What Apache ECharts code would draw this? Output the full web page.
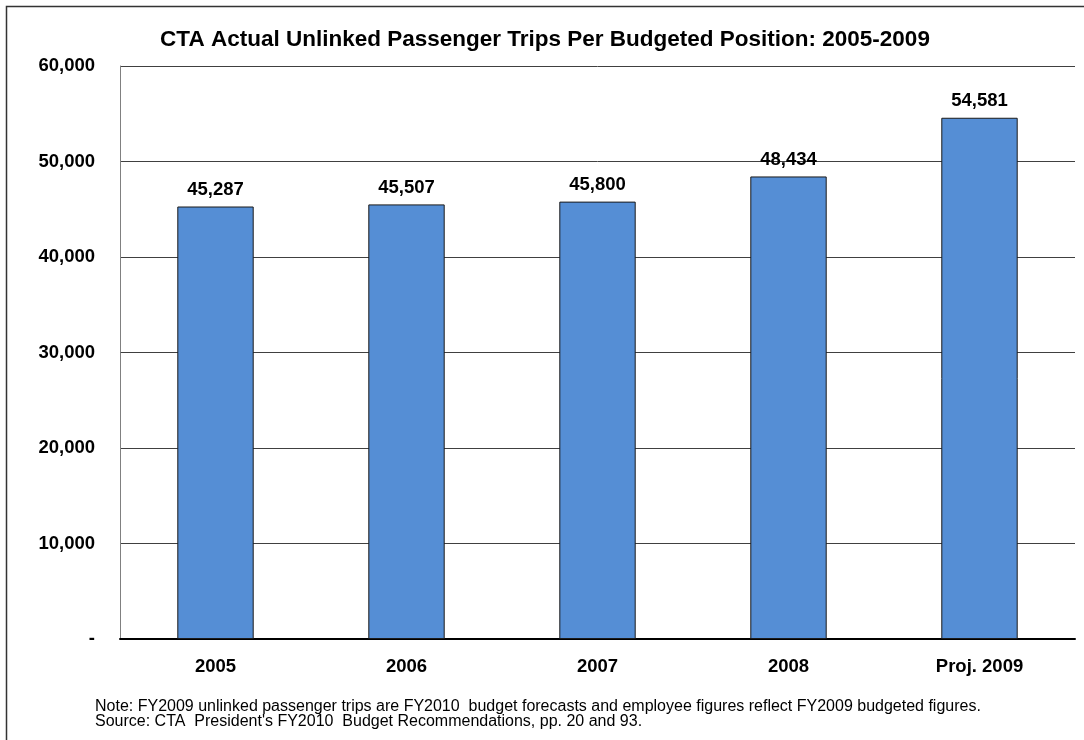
<!DOCTYPE html>
<html><head><meta charset="utf-8">
<script src="https://cdn.jsdelivr.net/npm/echarts@6/dist/echarts.min.js"></script>
<style>html,body{margin:0;padding:0;background:#fff}#c{width:1084px;height:740px}</style>
</head><body><div id="c"></div>
<script>
const categories = ['2005', '2006', '2007', '2008', 'Proj. 2009'];
const trips = [45287, 45507, 45800, 48434, 54581];
const titleText = 'CTA Actual Unlinked Passenger Trips Per Budgeted Position: 2005-2009';
const noteLines = [
  'Note: FY2009 unlinked passenger trips are FY2010  budget forecasts and employee figures reflect FY2009 budgeted figures.',
  "Source: CTA  President's FY2010  Budget Recommendations, pp. 20 and 93."
];
const chart = echarts.init(document.getElementById('c'));
const F = '"Liberation Sans", Arial, sans-serif';
chart.setOption({
  animation: false,
  backgroundColor: '#fff',
  title: { text: titleText, left: 540, textAlign: 'center', top: 23,
    textStyle: { fontFamily: F, fontWeight: 'bold', fontSize: 22.5, color: '#000' } },
  grid: { left: 120, right: 9, top: 66, bottom: 101, containLabel: false },
  xAxis: { type: 'category', data: categories,
    axisLine: { lineStyle: { color: '#000', width: 2 } },
    axisTick: { show: false },
    axisLabel: { fontFamily: F, fontWeight: 'bold', fontSize: 18.5, color: '#000', margin: 18 } },
  yAxis: { type: 'value', min: 0, max: 60000, interval: 10000,
    axisLine: { show: true, lineStyle: { color: '#808080', width: 1 } },
    axisTick: { show: false },
    splitLine: { lineStyle: { color: '#404040', width: 1 } },
    axisLabel: { fontFamily: F, fontWeight: 'bold', fontSize: 18.5, color: '#000', margin: 25,
      formatter: v => v === 0 ? '-' : v.toLocaleString('en-US') } },
  series: [{ type: 'bar', data: trips, barWidth: '40%',
    itemStyle: { color: '#558ED5', borderColor: '#1a1a1a', borderWidth: 1 },
    label: { show: true, position: 'top', distance: 7, fontFamily: F, fontWeight: 'bold', fontSize: 18.5, color: '#000',
      formatter: p => p.value.toLocaleString('en-US') } }],
  graphic: [
    { type: 'rect', shape: { x: 6.5, y: 6.5, width: 1100, height: 800 }, style: { fill: 'none', stroke: '#333', lineWidth: 1.5 }, silent: true },
    { type: 'text', left: 95, top: 699, style: { text: noteLines.join('\n'), font: '16px "Liberation Sans", Arial, sans-serif', fill: '#000', lineHeight: 15 } }
  ]
});
</script></body></html>
